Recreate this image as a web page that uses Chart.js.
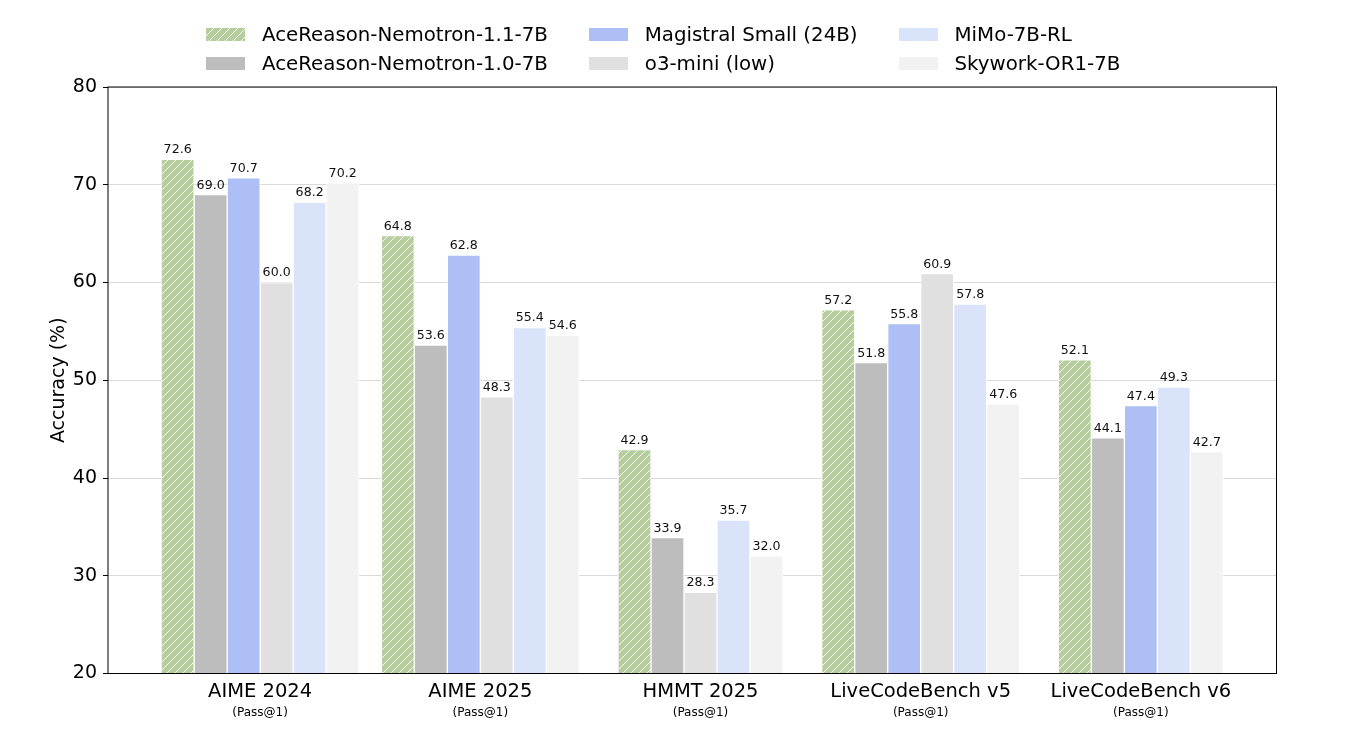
<!DOCTYPE html>
<html>
<head>
<meta charset="utf-8">
<script src="https://cdn.jsdelivr.net/npm/chart.js@4.4.1/dist/chart.umd.min.js"></script>
<style>
  html, body { margin: 0; padding: 0; background: #fff; }
  #wrap { position: relative; width: 1356px; height: 730px; }
  #legend {
    position: absolute; left: 206px; top: 20px;
    display: grid; grid-template-columns: auto auto auto; grid-auto-flow: column;
    grid-template-rows: 29px 29px; column-gap: 41px;
    font-family: 'DejaVu Sans', sans-serif; font-size: 19.8px; color: #000;
  }
  #legend .item { display: flex; align-items: center; white-space: nowrap; }
  #legend .sw { width: 39px; height: 12.5px; margin-right: 17px; flex: none; }
</style>
</head>
<body>
<div id="wrap">
  <canvas id="c"></canvas>
  <div id="legend"></div>
</div>
<script>
// ---- data -------------------------------------------------------------------

const CATEGORIES = ['AIME 2024', 'AIME 2025', 'HMMT 2025', 'LiveCodeBench v5', 'LiveCodeBench v6'];
const SUBLABEL   = '(Pass@1)';
const Y_TICKS    = [20, 30, 40, 50, 60, 70, 80];

const ACE_11    = [72.6, 64.8, 42.9, 57.2, 52.1];
const ACE_10    = [69.0, 53.6, 33.9, 51.8, 44.1];
const MAGISTRAL = [70.7, 62.8, null, 55.8, 47.4];
const O3_MINI   = [60.0, 48.3, 28.3, 60.9, null];
const MIMO      = [68.2, 55.4, 35.7, 57.8, 49.3];
const SKYWORK   = [70.2, 54.6, 32.0, 47.6, 42.7];

const SERIES = [
  { name: 'AceReason-Nemotron-1.1-7B', values: ACE_11,    color: '#b6cd9e', hatch: true },
  { name: 'AceReason-Nemotron-1.0-7B', values: ACE_10,    color: '#bdbdbd' },
  { name: 'Magistral Small (24B)',     values: MAGISTRAL, color: '#adbff5' },
  { name: 'o3-mini (low)',             values: O3_MINI,   color: '#e0e0e0' },
  { name: 'MiMo-7B-RL',                values: MIMO,      color: '#d9e4fb' },
  { name: 'Skywork-OR1-7B',            values: SKYWORK,   color: '#f2f2f2' },
];

// ---- hatch pattern ("//" white on green) ------------------------------------

function makeHatch(color) {
  const s = 8;
  const cv = document.createElement('canvas');
  cv.width = s; cv.height = s;
  const g = cv.getContext('2d');
  g.fillStyle = color;
  g.fillRect(0, 0, s, s);
  g.strokeStyle = 'rgba(255,255,255,0.9)';
  g.lineWidth = 1;
  g.beginPath();
  g.moveTo(-1, s + 1); g.lineTo(s + 1, -1);
  g.moveTo(-1, 1);     g.lineTo(1, -1);
  g.moveTo(s - 1, s + 1); g.lineTo(s + 1, s - 1);
  g.stroke();
  return cv;
}

const fills = SERIES.map(s => {
  if (!s.hatch) return { bg: s.color, css: s.color };
  const tile = makeHatch(s.color);
  const ctx = document.createElement('canvas').getContext('2d');
  return { bg: ctx.createPattern(tile, 'repeat'), css: `url(${tile.toDataURL()})` };
});

// ---- legend (3 columns, filled column-wise) ---------------------------------

const legendEl = document.getElementById('legend');
SERIES.forEach((s, i) => {
  const item = document.createElement('div');
  item.className = 'item';
  const sw = document.createElement('span');
  sw.className = 'sw';
  sw.style.background = fills[i].css;
  const txt = document.createElement('span');
  txt.textContent = s.name;
  item.appendChild(sw);
  item.appendChild(txt);
  legendEl.appendChild(item);
});

// ---- plugins ----------------------------------------------------------------

const valueLabels = {
  id: 'valueLabels',
  afterDraw(chart) {
    const ctx = chart.ctx;
    ctx.save();
    ctx.font = '12.6px "DejaVu Sans"';
    ctx.fillStyle = '#111';
    ctx.textAlign = 'center';
    ctx.textBaseline = 'bottom';
    chart.data.datasets.forEach((ds, di) => {
      const meta = chart.getDatasetMeta(di);
      meta.data.forEach((bar, i) => {
        const v = ds.data[i].y;
        if (v === null) return;
        ctx.fillText(v.toFixed(1), bar.x, bar.y - 3);
      });
    });
    ctx.restore();
  },
};

const frame = {
  id: 'frame',
  afterDraw(chart) {
    const { left, top, right, bottom } = chart.chartArea;
    const ctx = chart.ctx;
    ctx.save();
    ctx.strokeStyle = '#000';
    ctx.lineWidth = 1;
    ctx.strokeRect(left, top, right - left, bottom - top);
    ctx.restore();
  },
};

// ---- chart ------------------------------------------------------------------

const X_MIN = -0.691, X_MAX = 4.616;
const catTicks = axis => { axis.ticks = CATEGORIES.map((_, i) => ({ value: i })); };

Chart.defaults.font.family = "'DejaVu Sans', sans-serif";
Chart.defaults.color = '#000';

new Chart(document.getElementById('c').getContext('2d'), {
  type: 'bar',
  data: {
    datasets: SERIES.map((s, si) => ({
      label: s.name,
      data: s.values.map((v, i) => ({ x: i, y: v })),
      backgroundColor: fills[si].bg,
      borderColor: '#fff',
      borderWidth: 1,
      borderSkipped: false,
    })),
  },
  options: {
    responsive: true,
    maintainAspectRatio: false,
    animation: false,
    layout: { padding: { top: 87, right: 79.5, left: 0, bottom: 0 } },
    datasets: { bar: { skipNull: true, barThickness: 33 } },
    plugins: { legend: { display: false }, tooltip: { enabled: false } },
    scales: {
      x: {
        type: 'linear', min: X_MIN, max: X_MAX, offset: false,
        grid: { display: false, drawTicks: false, offset: false },
        border: { display: false },
        afterBuildTicks: catTicks,
        afterFit: s => { s.height = 30; },
        ticks: {
          autoSkip: false, maxRotation: 0, padding: 7,
          font: { size: 19.5 },
          callback: v => CATEGORIES[v],
        },
      },
      x2: {
        type: 'linear', position: 'bottom', weight: 1,
        min: X_MIN, max: X_MAX, offset: false,
        grid: { display: false, drawTicks: false },
        border: { display: false },
        afterBuildTicks: catTicks,
        afterFit: s => { s.height = 26.5; },
        ticks: {
          autoSkip: false, maxRotation: 0, padding: 2,
          font: { size: 12 },
          callback: () => SUBLABEL,
        },
      },
      y: {
        min: 20, max: 80, z: 1,
        afterBuildTicks: axis => { axis.ticks = Y_TICKS.map(v => ({ value: v })); },
        afterFit: s => { s.width = 108; },
        grid: { color: 'rgba(0,0,0,0.15)', tickColor: '#000', tickLength: 5 },
        border: { display: false },
        ticks: { padding: 6, font: { size: 19 } },
        title: {
          display: true, text: 'Accuracy (%)',
          font: { size: 19 }, padding: { top: 48, bottom: 0 },
        },
      },
    },
  },
  plugins: [valueLabels, frame],
});
</script>
</body>
</html>
